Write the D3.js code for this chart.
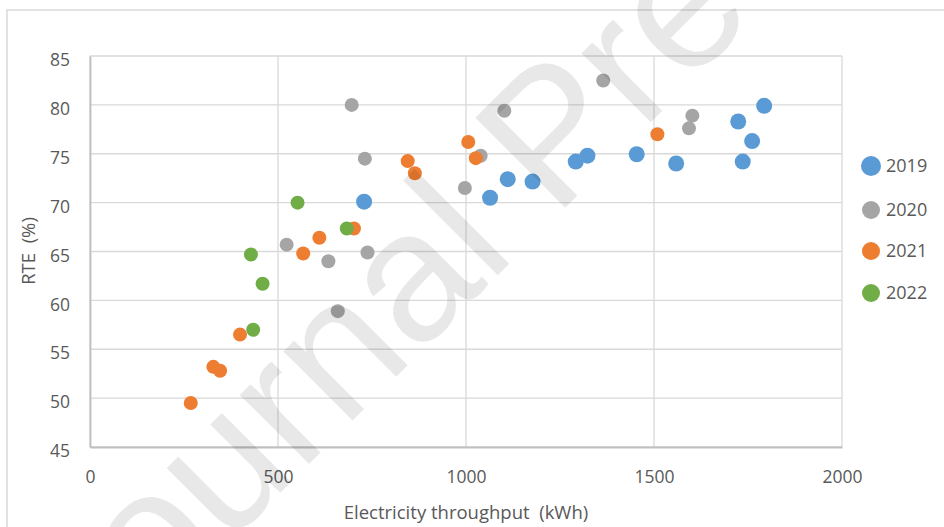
<!DOCTYPE html>
<html>
<head>
<meta charset="utf-8">
<script src="https://cdn.jsdelivr.net/npm/d3@7"></script>
<style>
  body { margin: 0; background: #fff; }
  svg { display: block; font-family: "Open Sans", "Liberation Sans", sans-serif; }
</style>
</head>
<body>
<svg id="chart" width="944" height="527"></svg>
<script>
// series names + colours
var years = ["2019", "2020", "2021", "2022"];
var colors = ["#5b9bd5", "#a5a5a5", "#ed7d31", "#70ad47"];

// throughput (kWh) and RTE (%), one pair of arrays per year
var x2019 = [729, 1064, 1111, 1177, 1292, 1323, 1454, 1559, 1724, 1736, 1761, 1793];
var y2019 = [70.1, 70.5, 72.4, 72.15, 74.2, 74.8, 74.95, 74.0, 78.3, 74.2, 76.3, 79.9];

var x2020 = [523, 634, 659, 696, 731, 738, 997, 1039, 1102, 1365, 1593, 1602];
var y2020 = [65.7, 64.0, 58.9, 80.0, 74.5, 64.9, 71.5, 74.8, 79.4, 82.5, 77.6, 78.9];

var x2021 = [268, 328, 346, 399, 567, 610, 702, 845, 864, 1006, 1026, 1509];
var y2021 = [49.5, 53.2, 52.8, 56.5, 64.8, 66.4, 67.35, 74.25, 73.0, 76.2, 74.55, 77.0];

var x2022 = [428, 434, 459, 552, 683];
var y2022 = [64.7, 57.0, 61.7, 70.0, 67.35];

var xTicks = [0, 500, 1000, 1500, 2000];
var yTicks = [45, 50, 55, 60, 65, 70, 75, 80, 85];

var xs = [x2019, x2020, x2021, x2022];
var ys = [y2019, y2020, y2021, y2022];

var svg = d3.select("#chart");
var textColor = "#595959";

// outer chart frame
svg.append("path")
  .attr("d", "M7,530 L7,10 L950,10")
  .attr("fill", "none")
  .attr("stroke", "#d9d9d9")
  .attr("stroke-width", 1.5);

// plot box (note: "top" is taken by window.top)
var pLeft = 90, pRight = 842, pTop = 56, pBottom = 447;
var x = d3.scaleLinear().domain([0, 2000]).range([pLeft, pRight]);
var y = d3.scaleLinear().domain([45, 85]).range([pBottom, pTop]);

// gridlines
var grid = svg.append("g");
grid.selectAll(".gx").data(xTicks).join("line")
  .attr("x1", d => x(d)).attr("x2", d => x(d))
  .attr("y1", pTop).attr("y2", pBottom)
  .attr("stroke", "#d9d9d9").attr("stroke-width", 1.3);
grid.selectAll(".gy").data(yTicks).join("line")
  .attr("x1", pLeft).attr("x2", pRight)
  .attr("y1", d => y(d)).attr("y2", d => y(d))
  .attr("stroke", "#d9d9d9").attr("stroke-width", 1.3);

// axes (just lines + labels, like excel)
var xAxis = svg.append("g").attr("transform", "translate(0," + pBottom + ")")
  .call(d3.axisBottom(x).tickValues(xTicks).tickFormat(d3.format("d")).tickSize(0).tickPadding(24));
var yAxis = svg.append("g").attr("transform", "translate(" + pLeft + ",0)")
  .call(d3.axisLeft(y).tickValues(yTicks).tickSize(0).tickPadding(20));
[xAxis, yAxis].forEach(function(a) {
  a.select(".domain").attr("stroke", "#bfbfbf").attr("stroke-width", 1.8);
  a.selectAll("text").attr("fill", textColor).style("font-size", "17.5px")
    .style("font-family", "'Open Sans', sans-serif");
});
yAxis.selectAll("text").attr("dy", "0.55em");

// axis titles
svg.append("text")
  .attr("x", 466).attr("y", 519)
  .attr("text-anchor", "middle")
  .attr("fill", textColor).style("font-size", "18.5px")
  .text("Electricity throughput\u00a0\u00a0(kWh)");
svg.append("text")
  .attr("transform", "translate(35,251) rotate(-90)")
  .attr("text-anchor", "middle")
  .attr("fill", textColor).style("font-size", "18.5px")
  .text("RTE\u00a0\u00a0(%)");

// points, series drawn in order so 2022 ends up on top
years.forEach(function(yr, i) {
  var pts = xs[i].map((v, j) => ({ x: v, y: ys[i][j] }));
  svg.append("g").selectAll("circle").data(pts).join("circle")
    .attr("cx", d => x(d.x))
    .attr("cy", d => y(d.y))
    .attr("r", i === 0 ? 8 : 7)
    .attr("fill", colors[i]);
});

// legend
var legendY = [166, 210, 251, 293];
var legend = svg.append("g");
years.forEach(function(yr, i) {
  legend.append("circle")
    .attr("cx", 871).attr("cy", legendY[i])
    .attr("r", i === 0 ? 10 : 9)
    .attr("fill", colors[i]);
  legend.append("text")
    .attr("x", 886).attr("y", legendY[i]).attr("dy", "0.36em")
    .attr("fill", textColor).style("font-size", "18px")
    .text(yr);
});

// watermark over everything
svg.append("text")
  .attr("transform", "translate(89,684) rotate(-45)")
  .attr("fill", "#000").attr("fill-opacity", 0.09)
  .style("font-family", "'Liberation Sans', Arial, sans-serif")
  .style("font-size", "185px")
  .style("pointer-events", "none")
  .text("Journal Pre-proof");
</script>
</body>
</html>
